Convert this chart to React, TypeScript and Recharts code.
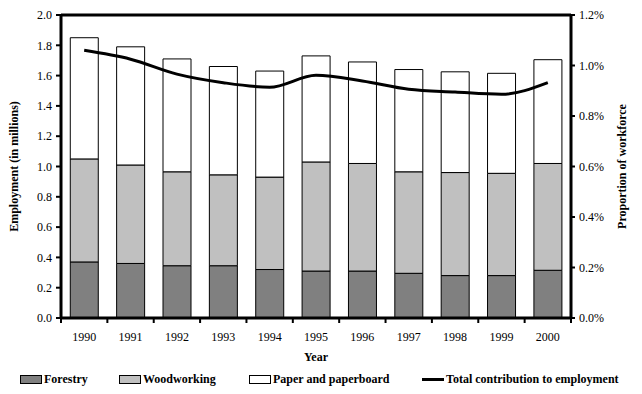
import {
  Bar,
  ComposedChart,
  Line,
  ReferenceLine,
  XAxis,
  YAxis,
} from "recharts";

const years = ["1990", "1991", "1992", "1993", "1994", "1995", "1996", "1997", "1998", "1999", "2000"];
const forestry = [0.37, 0.36, 0.345, 0.345, 0.32, 0.31, 0.31, 0.295, 0.28, 0.28, 0.315];
const woodworking = [0.68, 0.65, 0.62, 0.6, 0.61, 0.72, 0.71, 0.67, 0.68, 0.675, 0.705];
const paper = [0.8, 0.78, 0.745, 0.715, 0.7, 0.7, 0.67, 0.675, 0.665, 0.66, 0.685];
const totalShare = [1.06, 1.025, 0.966, 0.932, 0.914, 0.961, 0.939, 0.906, 0.895, 0.886, 0.932];

const leftTicks = [0, 0.2, 0.4, 0.6, 0.8, 1.0, 1.2, 1.4, 1.6, 1.8, 2.0];
const rightTicks = [0, 0.2, 0.4, 0.6, 0.8, 1.0, 1.2];

const data = years.map((year, i) => ({
  year,
  forestry: forestry[i],
  woodworking: woodworking[i],
  paper: paper[i],
  total: totalShare[i],
}));

const FONT = "'Liberation Serif', 'Times New Roman', serif";
const W = 642;
const H = 394;
const LEFT_W = 61;
const RIGHT_W = 71;
const BAND = (W - LEFT_W - RIGHT_W) / years.length;

const legendItems = [
  { name: "Forestry", fill: "#808080", kind: "box", left: 20 },
  { name: "Woodworking", fill: "#c0c0c0", kind: "box", left: 119 },
  { name: "Paper and paperboard", fill: "#ffffff", kind: "box", left: 249 },
  { name: "Total contribution to employment", fill: "#000000", kind: "line", left: 422 },
];

function YearTick(props: any) {
  const { x, y, payload, index } = props;
  const last = index === years.length - 1;
  return (
    <g>
      <line x1={x - BAND / 2} x2={x - BAND / 2} y1={y} y2={y + 5} stroke="#000" strokeWidth={2} />
      {last && (
        <line x1={x + BAND / 2} x2={x + BAND / 2} y1={y} y2={y + 5} stroke="#000" strokeWidth={2} />
      )}
      <text x={x} y={y + 23} textAnchor="middle" fontFamily={FONT} fontSize={12} fill="#000">
        {payload.value}
      </text>
    </g>
  );
}

export default function App() {
  return (
    <div style={{ position: "absolute", left: 0, top: 0, width: W, height: H, background: "#fff" }}>
      <ComposedChart
        width={W}
        height={H}
        data={data}
        margin={{ top: 15, right: 0, bottom: 0, left: 0 }}
        barCategoryGap="20%"
      >
        <XAxis
          dataKey="year"
          height={76}
          axisLine={{ stroke: "#000", strokeWidth: 3 }}
          tickLine={false}
          tickSize={0}
          tickMargin={0}
          tick={<YearTick />}
          interval={0}
          label={{
            value: "Year",
            position: "insideTop",
            offset: 34,
            style: { fontFamily: FONT, fontSize: 12, fontWeight: "bold", fill: "#000" },
          }}
        />
        <YAxis
          yAxisId="left"
          width={LEFT_W}
          domain={[0, 2]}
          ticks={leftTicks}
          tickFormatter={(v: number) => v.toFixed(1)}
          axisLine={{ stroke: "#000", strokeWidth: 3 }}
          tickLine={{ stroke: "#000", strokeWidth: 2 }}
          tickSize={5}
          tickMargin={4}
          tick={{ fontFamily: FONT, fontSize: 12, fill: "#000" }}
          label={{
            value: "Employment (in millions)",
            angle: -90,
            position: "insideLeft",
            offset: 14,
            style: { fontFamily: FONT, fontSize: 12, fontWeight: "bold", fill: "#000", textAnchor: "middle" },
          }}
        />
        <YAxis
          yAxisId="right"
          orientation="right"
          width={RIGHT_W}
          domain={[0, 1.2]}
          ticks={rightTicks}
          tickFormatter={(v: number) => v.toFixed(1) + "%"}
          axisLine={{ stroke: "#000", strokeWidth: 3 }}
          tickLine={{ stroke: "#000", strokeWidth: 2 }}
          tickSize={4}
          tickMargin={4}
          tick={{ fontFamily: FONT, fontSize: 12, fill: "#000" }}
          label={{
            value: "Proportion of workforce",
            angle: -90,
            position: "insideRight",
            offset: 20,
            style: { fontFamily: FONT, fontSize: 12, fontWeight: "bold", fill: "#000", textAnchor: "middle" },
          }}
        />
        <ReferenceLine yAxisId="left" y={2} stroke="#000" strokeWidth={3} />
        <Bar yAxisId="left" dataKey="forestry" stackId="a" fill="#808080" stroke="#000" strokeWidth={1} isAnimationActive={false} />
        <Bar yAxisId="left" dataKey="woodworking" stackId="a" fill="#c0c0c0" stroke="#000" strokeWidth={1} isAnimationActive={false} />
        <Bar yAxisId="left" dataKey="paper" stackId="a" fill="#ffffff" stroke="#000" strokeWidth={1} isAnimationActive={false} />
        <Line
          yAxisId="right"
          dataKey="total"
          type="monotone"
          stroke="#000"
          strokeWidth={3}
          dot={false}
          isAnimationActive={false}
        />
      </ComposedChart>
      {legendItems.map((item) => (
        <div
          key={item.name}
          style={{
            position: "absolute",
            left: item.left,
            top: 372,
            display: "flex",
            alignItems: "center",
            fontFamily: FONT,
            fontSize: 12,
            fontWeight: "bold",
            whiteSpace: "nowrap",
          }}
        >
          {item.kind === "box" ? (
            <span
              style={{
                display: "inline-block",
                width: 20,
                height: 7,
                background: item.fill,
                border: "1px solid #000",
                marginRight: 2,
              }}
            />
          ) : (
            <span
              style={{ display: "inline-block", width: 22, height: 3, background: "#000", marginRight: 2 }}
            />
          )}
          {item.name}
        </div>
      ))}
    </div>
  );
}
